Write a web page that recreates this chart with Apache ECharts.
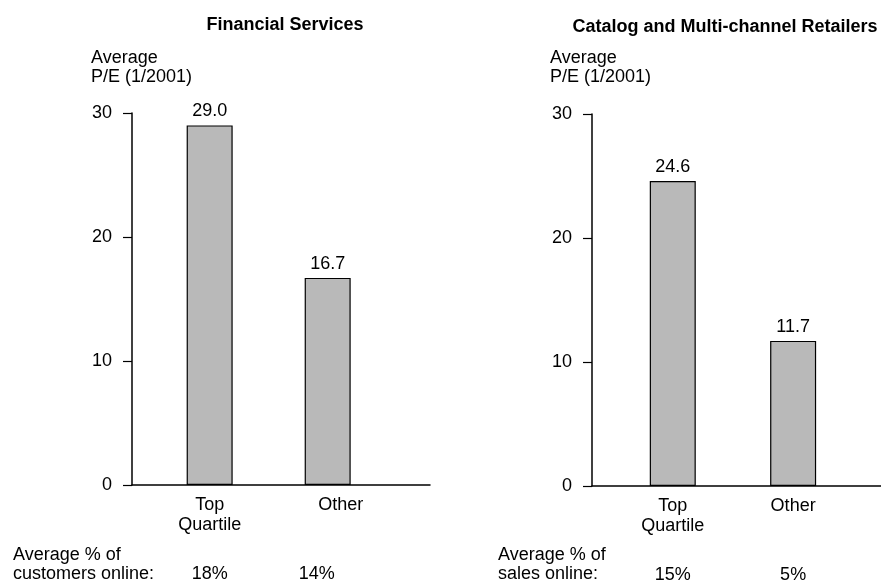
<!DOCTYPE html>
<html>
<head>
<meta charset="utf-8">
<script src="https://cdn.jsdelivr.net/npm/echarts@6/dist/echarts.min.js"></script>
<style>
  html, body { margin: 0; padding: 0; background: #ffffff; }
  #chart { width: 881px; height: 581px; }
</style>
</head>
<body>
<div id="chart"></div>
<script>
// Panel titles
const panelTitles = ['Financial Services', 'Catalog and Multi-channel Retailers'];
// Bar categories (x positions 1 and 2 on each panel)
const categories = ['Top\nQuartile', 'Other'];
const categoryPos = [1, 2];
// Average P/E (1/2001)
const financialPE = [29.0, 16.7];
const retailPE = [24.6, 11.7];
// Average online share, shown under each bar
const financialOnline = ['18%', '14%'];
const retailOnline = ['15%', '5%'];
const onlineCaptions = ['Average % of\ncustomers online:', 'Average % of\nsales online:'];
// Value axis
const yAxisTitle = 'Average\nP/E (1/2001)';
const yMin = 0, yMax = 30, yStep = 10;

const FONT = '"Liberation Sans", Arial, Helvetica, sans-serif';
const INK = '#000000';

const chart = echarts.init(document.getElementById('chart'), null, { renderer: 'canvas' });

const grids = [
  { left: 132, top: 113, width: 298, bottom: 96, outerBoundsMode: 'none', containLabel: false },
  { left: 592, top: 114, width: 289, bottom: 95, outerBoundsMode: 'none', containLabel: false }
];
const xRanges = [
  { min: 0.342, max: 2.867 },
  { min: 0.329, max: 2.730 }
];
// horizontal nudges (px) for a few labels on the left panel, keyed by label text
const labelNudge = [{ 'Other': 13, '14%': -11 }, {}];

function labelFor(list, nudge) {
  return function (v) {
    const t = list[categoryPos.indexOf(Math.round(v))] || '';
    const d = nudge[t];
    if (!d) return t;
    return '{' + (d > 0 ? 'r' : 'l') + Math.abs(d) + '|' + t + '}';
  };
}
function nudgeRich(nudge) {
  const rich = {};
  Object.keys(nudge).forEach(function (k) {
    const d = nudge[k];
    const key = (d > 0 ? 'r' : 'l') + Math.abs(d);
    rich[key] = {
      color: INK, fontFamily: FONT, fontSize: 18, lineHeight: 20,
      padding: d > 0 ? [0, 0, 0, 2 * d] : [0, -2 * d, 0, 0]
    };
  });
  return rich;
}

const xAxes = [], yAxes = [], series = [];
[financialPE, retailPE].forEach(function (values, i) {
  const online = i === 0 ? financialOnline : retailOnline;
  // category axis with its line
  xAxes.push({
    type: 'value', gridIndex: i, min: xRanges[i].min, max: xRanges[i].max,
    splitLine: { show: false },
    axisLine: { show: true, onZero: false, lineStyle: { color: INK, width: 1.5 } },
    axisTick: { show: false },
    axisLabel: {
      customValues: categoryPos, formatter: labelFor(categories, labelNudge[i]),
      rich: nudgeRich(labelNudge[i]),
      color: INK, fontFamily: FONT, fontSize: 18, lineHeight: 20, margin: 10
    }
  });
  // row of online-share values beneath the categories
  xAxes.push({
    type: 'value', gridIndex: i, position: 'bottom', min: xRanges[i].min, max: xRanges[i].max,
    splitLine: { show: false }, axisLine: { show: false }, axisTick: { show: false },
    axisLabel: {
      customValues: categoryPos, formatter: labelFor(online, labelNudge[i]),
      rich: nudgeRich(labelNudge[i]),
      color: INK, fontFamily: FONT, fontSize: 18, lineHeight: 20, margin: 79
    }
  });
  yAxes.push({
    type: 'value', gridIndex: i, min: yMin, max: yMax, interval: yStep,
    splitLine: { show: false },
    axisLine: { show: true, lineStyle: { color: INK, width: 1.5 } },
    axisTick: { show: true, length: 9, lineStyle: { color: INK, width: 1.2 } },
    axisLabel: { color: INK, fontFamily: FONT, fontSize: 18, margin: 20 }
  });
  series.push({
    type: 'bar', xAxisIndex: i * 2, yAxisIndex: i,
    barWidth: 46,
    data: values.map(function (v, k) { return [categoryPos[k], v]; }),
    itemStyle: { color: '#b9b9b9', borderColor: INK, borderWidth: 1.2 },
    label: {
      show: true, position: 'top', distance: 5,
      color: INK, fontFamily: FONT, fontSize: 18,
      formatter: function (p) { return p.value[1].toFixed(1); }
    },
    silent: true, animation: false
  });
});

const textStyle = { fill: INK, font: '18px ' + FONT, lineHeight: 19 };

chart.setOption({
  backgroundColor: '#ffffff',
  animation: false,
  title: [
    { text: panelTitles[0], left: 280, top: 11, textAlign: 'center',
      textStyle: { color: INK, fontFamily: FONT, fontSize: 18, fontWeight: 'bold' } },
    { text: panelTitles[1], left: 720, top: 13, textAlign: 'center',
      textStyle: { color: INK, fontFamily: FONT, fontSize: 18, fontWeight: 'bold' } }
  ],
  grid: grids,
  xAxis: xAxes,
  yAxis: yAxes,
  series: series,
  graphic: [
    { type: 'text', left: 91, top: 49, style: Object.assign({ text: yAxisTitle }, textStyle) },
    { type: 'text', left: 550, top: 49, style: Object.assign({ text: yAxisTitle }, textStyle) },
    { type: 'text', left: 13, top: 546, style: Object.assign({ text: onlineCaptions[0] }, textStyle) },
    { type: 'text', left: 498, top: 546, style: Object.assign({ text: onlineCaptions[1] }, textStyle) }
  ]
});
</script>
</body>
</html>
